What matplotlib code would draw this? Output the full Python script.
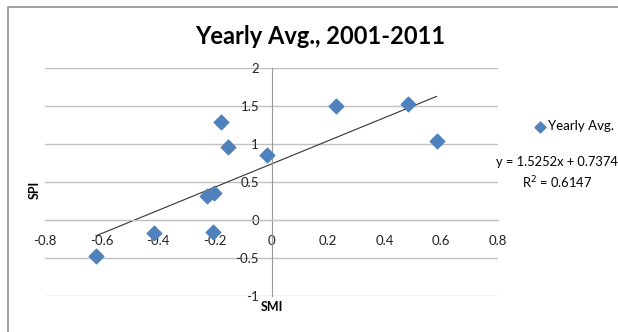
import numpy as np
import matplotlib.pyplot as plt
from matplotlib.lines import Line2D

plt.rcParams['font.family'] = ['Lato', 'DejaVu Sans']

# Yearly averages 2001-2011
smi = [-0.62, -0.414, -0.206, -0.229, -0.204, -0.177, -0.155, -0.015, 0.227, 0.483, 0.583]
spi = [-0.47, -0.167, -0.154, 0.32, 0.36, 1.29, 0.96, 0.85, 1.50, 1.53, 1.04]
slope, intercept = 1.5252, 0.7374
r2 = 0.6147

x_ticks = [-0.8, -0.6, -0.4, -0.2, 0, 0.2, 0.4, 0.6, 0.8]
y_ticks = [-1, -0.5, 0, 0.5, 1, 1.5, 2]

fig = plt.figure(figsize=(6.18, 3.32), dpi=100)
# outer chart border: only the left and top edges fall inside the image
bx, by = 7.5 / 618, 1 - 6.5 / 332
fig.lines.append(Line2D([bx, bx, 1.0], [0.0, by, by], transform=fig.transFigure,
                        color='#868686', linewidth=1.1))

ax = fig.add_axes([45 / 618, 36 / 332, 453 / 618, 228 / 332])
ax.set_xlim(-0.8, 0.8)
ax.set_ylim(-1, 2)

for y in y_ticks:
    ax.axhline(y, color='#c0c0c0', linewidth=1.0, zorder=0)

for s in ['top', 'right']:
    ax.spines[s].set_visible(False)
ax.spines['left'].set_position(('data', 0))
ax.spines['bottom'].set_position(('data', 0))
ax.spines['left'].set_color('#9a9a9a')
ax.spines['bottom'].set_color('#c0c0c0')

ax.set_xticks(x_ticks)
ax.set_xticklabels(['-0.8', '-0.6', '-0.4', '-0.2', '0', '0.2', '0.4', '0.6', '0.8'])
ax.set_yticks(y_ticks)
ax.set_yticklabels(['-1', '-0.5', '0', '0.5', '1', '1.5', '2'])
ax.tick_params(axis='x', length=0, pad=11, labelsize=9.5, labelcolor='#222222')
ax.tick_params(axis='y', length=0, pad=9, labelsize=9.5, labelcolor='#222222')

ax.scatter(smi, spi, marker='D', s=55, color='#4F81BD', zorder=3, label='Yearly Avg.')

xs = np.array([min(smi), max(smi)])
ax.plot(xs, slope * xs + intercept, color='#333333', linewidth=0.8, zorder=2)

fig.text(320 / 618, 1 - 36 / 332, 'Yearly Avg., 2001-2011', ha='center', va='center',
         fontsize=17, fontweight='bold')
fig.text(272 / 618, 1 - 307 / 332, 'SMI', ha='center', va='center', fontsize=9, fontweight='bold')
fig.text(35 / 618, 1 - 190 / 332, 'SPI', ha='center', va='center', rotation=90,
         fontsize=9, fontweight='bold')

fig.legend(handles=[ax.collections[0]], labels=['Yearly Avg.'], loc='center left',
           bbox_to_anchor=(533 / 618, 1 - 126 / 332), frameon=False, fontsize=9.5,
           handletextpad=0.1, markerscale=0.75, handlelength=1, borderaxespad=0, borderpad=0)

fig.text(557 / 618, 1 - 162 / 332, 'y = 1.5252x + 0.7374', ha='center', va='center', fontsize=9.3)
fig.text(557 / 618, 1 - 183 / 332, 'R$^2$ = %.4f' % r2, ha='center', va='center', fontsize=9.3)

fig.savefig('out.png', dpi=100)
